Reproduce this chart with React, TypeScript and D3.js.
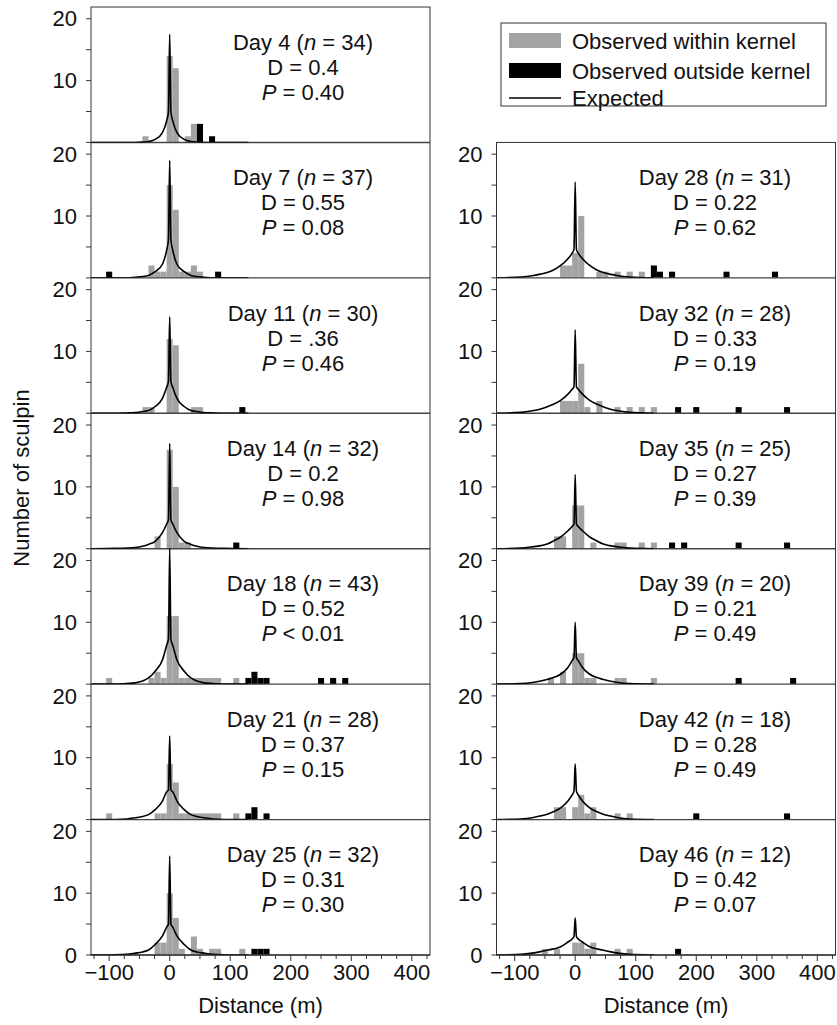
import React from "react";
import * as d3 from "d3";

// ---------- data ----------
const days = [4, 7, 11, 14, 18, 21, 25, 28, 32, 35, 39, 42, 46];
const nValues = [34, 37, 30, 32, 43, 28, 32, 31, 28, 25, 20, 18, 12];
const dLabels = ["0.4", "0.55", ".36", "0.2", "0.52", "0.37", "0.31", "0.22", "0.33", "0.27", "0.21", "0.28", "0.42"];
const pLabels = ["= 0.40", "= 0.08", "= 0.46", "= 0.98", "< 0.01", "= 0.15", "= 0.30", "= 0.62", "= 0.19", "= 0.39", "= 0.49", "= 0.49", "= 0.07"];

// [bin centre (m), count]  — bins are 10 m wide
const within04 = [[-40, 1], [0, 14], [10, 12], [30, 1], [40, 3]];
const outside04 = [[50, 3], [70, 1]];
const within07 = [[-30, 2], [-20, 1], [-10, 1], [0, 15], [10, 11], [20, 1], [30, 1], [40, 2], [50, 1]];
const outside07 = [[-100, 1], [80, 1]];
const within11 = [[-40, 1], [-30, 1], [0, 12], [10, 11], [40, 1], [50, 1]];
const outside11 = [[120, 1]];
const within14 = [[-20, 2], [0, 16], [10, 10], [20, 1], [30, 1]];
const outside14 = [[110, 1]];
const within18 = [[-100, 1], [-30, 1], [-20, 2], [-10, 1], [0, 11], [10, 11], [20, 1], [30, 1], [40, 1], [50, 1], [60, 1], [70, 1], [80, 1], [110, 1]];
const outside18 = [[130, 1], [140, 2], [150, 1], [160, 1], [250, 1], [270, 1], [290, 1]];
const within21 = [[-100, 1], [-20, 1], [-10, 1], [0, 9], [10, 6], [20, 1], [30, 1], [40, 1], [50, 1], [60, 1], [70, 1], [80, 1], [110, 1]];
const outside21 = [[130, 1], [140, 2], [160, 1]];
const within25 = [[-20, 2], [-10, 2], [0, 10], [10, 6], [20, 1], [40, 3], [50, 1], [70, 1], [80, 1], [120, 1]];
const outside25 = [[140, 1], [150, 1], [160, 1]];
const within28 = [[-20, 2], [-10, 2], [0, 4], [10, 10], [40, 1], [50, 1], [70, 1], [90, 1], [110, 1]];
const outside28 = [[130, 2], [140, 1], [160, 1], [250, 1], [330, 1]];
const within32 = [[-20, 2], [-10, 2], [0, 2], [10, 8], [20, 1], [40, 2], [70, 1], [90, 1], [110, 1], [130, 1]];
const outside32 = [[170, 1], [200, 1], [270, 1], [350, 1]];
const within35 = [[-30, 2], [-20, 2], [0, 7], [10, 7], [30, 1], [70, 1], [80, 1], [110, 1], [130, 1]];
const outside35 = [[160, 1], [180, 1], [270, 1], [350, 1]];
const within39 = [[-40, 1], [-20, 2], [0, 5], [10, 5], [20, 1], [30, 1], [70, 1], [80, 1], [130, 1]];
const outside39 = [[270, 1], [360, 1]];
const within42 = [[-30, 2], [-20, 2], [0, 2], [10, 4], [20, 1], [30, 2], [70, 1], [90, 1]];
const outside42 = [[200, 1], [350, 1]];
const within46 = [[-50, 1], [-30, 1], [0, 2], [10, 2], [20, 1], [30, 2], [70, 1], [90, 1]];
const outside46 = [[170, 1]];

// expected curve: half profile (symmetric), heights at these distances (m)
const curveDist = [0, 2, 5, 12, 24, 35, 45, 57, 71, 90, 130];
const expected04 = [17.5, 5.0, 3.5, 1.6, 0.5, 0.15, 0.05, 0, 0, 0, 0];
const expected07 = [19, 6.2, 4.5, 2.2, 1.0, 0.4, 0.2, 0.1, 0, 0, 0];
const expected11 = [15.6, 5.2, 4.2, 2.4, 1.1, 0.45, 0.3, 0.1, 0.05, 0, 0];
const expected14 = [17, 4.7, 4.0, 2.6, 1.2, 0.7, 0.4, 0.2, 0.1, 0.05, 0];
const expected18 = [22, 7.3, 6.3, 3.9, 2.1, 1.0, 0.5, 0.2, 0.1, 0.02, 0];
const expected21 = [13.5, 4.8, 4.5, 3.0, 1.6, 0.8, 0.5, 0.3, 0.1, 0.02, 0];
const expected25 = [16, 5.0, 4.5, 3.1, 1.7, 0.8, 0.5, 0.3, 0.1, 0.02, 0];
const expected28 = [15.5, 4.6, 4.0, 3.1, 2.0, 1.3, 0.9, 0.6, 0.35, 0.15, 0];
const expected32 = [13.5, 4.3, 3.9, 3.1, 2.1, 1.5, 1.1, 0.7, 0.4, 0.15, 0];
const expected35 = [12, 4.0, 3.6, 2.9, 1.9, 1.3, 0.8, 0.5, 0.3, 0.1, 0];
const expected39 = [10, 4.3, 3.8, 2.7, 1.6, 1.1, 0.8, 0.5, 0.27, 0.1, 0];
const expected42 = [9, 4.6, 4.0, 3.0, 1.9, 1.3, 0.9, 0.6, 0.3, 0.1, 0];
const expected46 = [6, 3.0, 2.6, 2.1, 1.35, 1.0, 0.8, 0.55, 0.3, 0.1, 0];

const withinAll = [within04, within07, within11, within14, within18, within21, within25, within28, within32, within35, within39, within42, within46];
const outsideAll = [outside04, outside07, outside11, outside14, outside18, outside21, outside25, outside28, outside32, outside35, outside39, outside42, outside46];
const expectedAll = [expected04, expected07, expected11, expected14, expected18, expected21, expected25, expected28, expected32, expected35, expected39, expected42, expected46];

const xTicks = [-125, -100, -75, -50, -25, 0, 25, 50, 75, 100, 125, 150, 175, 200, 225, 250, 275, 300, 325, 350, 375, 400, 425];
const xTickLabels = [-100, 0, 100, 200, 300, 400];
const yTicks = [0, 5, 10, 15, 20];
const yTickLabels = [10, 20];

const legendItems = ["Observed within kernel", "Observed outside kernel", "Expected"];

// ---------- layout ----------
const W = 837;
const H = 1025;
const TOP = 7;
const PH = 135.43;
const COLS = [
  { x0: 91, x1: 430, textX: 303 },
  { x0: 496.5, x1: 835.5, textX: 715 },
];
const X_DOMAIN = [-130, 430];
const Y_DOMAIN = [0, 21.9];
const GRAY = "#a3a3a3";
const FONT = "'Liberation Sans', Arial, Helvetica, sans-serif";
const FS = 22;

const panels = days.map((day, i) => {
  const col = i < 7 ? 0 : 1;
  const row = i < 7 ? i : i - 6;
  return { i, day, col, row };
});

function Panel({ p }) {
  const c = COLS[p.col];
  const top = TOP + p.row * PH;
  const bottom = top + PH;
  const x = d3.scaleLinear().domain(X_DOMAIN).range([c.x0, c.x1]);
  const y = d3.scaleLinear().domain(Y_DOMAIN).range([bottom, top]);
  const within = withinAll[p.i];
  const outside = outsideAll[p.i];
  const exp = expectedAll[p.i];
  const pts = [];
  for (let k = curveDist.length - 1; k > 0; k--) pts.push([-curveDist[k], exp[k]]);
  for (let k = 0; k < curveDist.length; k++) pts.push([curveDist[k], exp[k]]);
  const line = d3
    .line()
    .x((d) => x(d[0]))
    .y((d) => y(d[1]))
    .curve(d3.curveMonotoneX);
  const clipId = `clip-${p.i}`;
  const isBottom = p.row === 6;
  const bar = (d, fill, k) => (
    <rect
      key={k}
      x={x(d[0] - 5)}
      y={y(d[1])}
      width={x(d[0] + 5) - x(d[0] - 5)}
      height={y(0) - y(d[1])}
      fill={fill}
    />
  );
  return (
    <g>
      <defs>
        <clipPath id={clipId}>
          <rect x={c.x0} y={top} width={c.x1 - c.x0} height={PH} />
        </clipPath>
      </defs>
      <g clipPath={`url(#${clipId})`}>
        {within.map((d, k) => bar(d, GRAY, "w" + k))}
        {outside.map((d, k) => bar(d, "#000", "o" + k))}
      </g>
      <line x1={c.x0} x2={c.x1} y1={bottom} y2={bottom} stroke="#444" strokeWidth={1.4} />
      <path d={line(pts)} fill="none" stroke="#000" strokeWidth={1.6} clipPath={`url(#${clipId})`} />
      {/* y ticks */}
      {yTicks.map((t) => (
        <line key={"yt" + t} x1={c.x0 - 5} x2={c.x0} y1={y(t)} y2={y(t)} stroke="#333" strokeWidth={1} />
      ))}
      {yTickLabels.map((t) => (
        <text key={"yl" + t} x={c.x0 - 14} y={y(t)} dy="0.35em" textAnchor="end" fontSize={FS} fontFamily={FONT} fill="#111">
          {t}
        </text>
      ))}
      {isBottom && (
        <text x={c.x0 - 14} y={y(0)} dy="0.35em" textAnchor="end" fontSize={FS} fontFamily={FONT} fill="#111">
          0
        </text>
      )}
      {/* annotation */}
      <text x={c.textX} y={top + 35} dy="0.35em" textAnchor="middle" fontSize={FS} fontFamily={FONT} fill="#111">
        {`Day ${p.day} (`}
        <tspan fontStyle="italic">n</tspan>
        {` = ${nValues[p.i]})`}
      </text>
      <text x={c.textX} y={top + 60} dy="0.35em" textAnchor="middle" fontSize={FS} fontFamily={FONT} fill="#111">
        {`D = ${dLabels[p.i]}`}
      </text>
      <text x={c.textX} y={top + 85} dy="0.35em" textAnchor="middle" fontSize={FS} fontFamily={FONT} fill="#111">
        <tspan fontStyle="italic">P</tspan>
        {` ${pLabels[p.i]}`}
      </text>
      {isBottom && (
        <g>
          {xTicks.map((t) => (
            <line
              key={"xt" + t}
              x1={x(t)}
              x2={x(t)}
              y1={bottom}
              y2={bottom + (t % 100 === 0 ? 6 : 4)}
              stroke="#333"
              strokeWidth={1}
            />
          ))}
          {xTickLabels.map((t) => (
            <text key={"xl" + t} x={x(t)} y={bottom + 17} dy="0.35em" textAnchor="middle" fontSize={FS} fontFamily={FONT} fill="#111">
              {t < 0 ? "\u2212" + Math.abs(t) : String(t)}
            </text>
          ))}
          <text x={(c.x0 + c.x1) / 2} y={bottom + 50} dy="0.35em" textAnchor="middle" fontSize={FS} fontFamily={FONT} fill="#111">
            Distance (m)
          </text>
        </g>
      )}
    </g>
  );
}

function Frames() {
  const bottom = TOP + 7 * PH;
  const rTop = TOP + PH;
  return (
    <g fill="none" stroke="#333" strokeWidth={1}>
      <rect x={COLS[0].x0} y={TOP} width={COLS[0].x1 - COLS[0].x0} height={bottom - TOP} />
      <rect x={COLS[1].x0} y={rTop} width={COLS[1].x1 - COLS[1].x0} height={bottom - rTop} />
    </g>
  );
}

function Legend() {
  const bx = 501, by = 23, bw = 325, bh = 83;
  const sx = 509, sw = 52, tx = 572;
  const rowsY = [41, 71, 98];
  return (
    <g>
      <rect x={bx} y={by} width={bw} height={bh} fill="#fff" stroke="#333" strokeWidth={1} />
      <rect x={sx} y={rowsY[0] - 8} width={sw} height={15} fill={GRAY} />
      <rect x={sx} y={rowsY[1] - 8} width={sw} height={15} fill="#000" />
      <line x1={sx} x2={sx + sw} y1={rowsY[2]} y2={rowsY[2]} stroke="#000" strokeWidth={1.4} />
      {legendItems.map((t, k) => (
        <text key={t} x={tx} y={rowsY[k]} dy="0.35em" fontSize={FS} fontFamily={FONT} fill="#111">
          {t}
        </text>
      ))}
    </g>
  );
}

export default function App() {
  return (
    <div style={{ position: "absolute", left: 0, top: 0 }}>
      <svg width={W} height={H} viewBox={`0 0 ${W} ${H}`} style={{ display: "block", background: "#fff" }}>
        {panels.map((p) => (
          <Panel key={p.day} p={p} />
        ))}
        <Frames />
        <Legend />
        <text
          transform={`translate(21, 478) rotate(-90)`}
          dy="0.35em"
          textAnchor="middle"
          fontSize={FS}
          fontFamily={FONT}
          fill="#111"
        >
          Number of sculpin
        </text>
      </svg>
    </div>
  );
}
